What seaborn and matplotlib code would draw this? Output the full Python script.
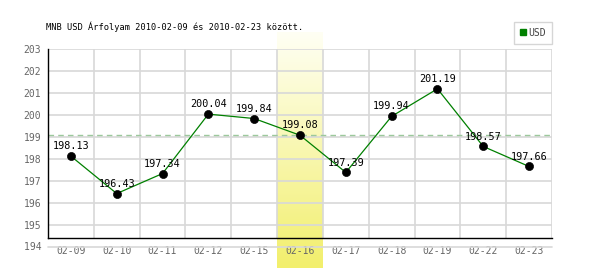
import matplotlib
matplotlib.use("Agg")
import matplotlib.pyplot as plt
import matplotlib.transforms as mtransforms
from matplotlib.lines import Line2D
from matplotlib.colors import LinearSegmentedColormap
import numpy as np
import pandas as pd
import seaborn as sns

dates = ["02-09", "02-10", "02-11", "02-12", "02-15", "02-16", "02-17", "02-18", "02-19", "02-22", "02-23"]
values = [198.13, 196.43, 197.34, 200.04, 199.84, 199.08, 197.39, 199.94, 201.19, 198.57, 197.66]
ref_level = 199.09
highlight = "02-16"
yticks = [195, 196, 197, 198, 199, 200, 201, 202, 203]
title = "MNB USD Árfolyam 2010-02-09 és 2010-02-23 között."
series_name = "USD"

sns.set_style("white")
plt.rcParams['font.family'] = ['DejaVu Sans Mono', 'DejaVu Sans']

df = pd.DataFrame({"date": dates, "value": values, "pos": np.arange(len(dates))})

fig = plt.figure(figsize=(6, 2.7), dpi=100)
ax = fig.add_axes([48/600, 32/270, 504/600, 189/270])

n = len(dates)

# highlight band with vertical gradient
hi = dates.index(highlight)
trans = mtransforms.blended_transform_factory(ax.transData, fig.transFigure)
grad = np.linspace(0, 1, 256).reshape(-1, 1)
cmap = LinearSegmentedColormap.from_list("band", ["#fffff4", "#f2ef6c"])
ax.imshow(grad, extent=[hi - 0.5, hi + 0.5, 2/270, 238/270], transform=trans,
          cmap=cmap, aspect='auto', origin='upper', clip_on=False, zorder=0)
ax.set_xlim(-0.5, n - 0.5)
ax.set_ylim(194.41, 203)

# grid
for yv in yticks:
    ax.axhline(yv, color="#d8d8d8", lw=1.2, zorder=1)
for xv in np.arange(-0.5, n, 1.0)[1:]:
    ax.axvline(xv, color="#d8d8d8", lw=1.2, zorder=1)
ax.plot([-0.5, n - 0.5], [194, 194], color="#d8d8d8", lw=1.2, clip_on=False, zorder=1)

ax.axhline(ref_level, color="#9cc89c", lw=1, ls=(0, (4, 3)), zorder=2)

sns.lineplot(data=df, x="pos", y="value", color="#008000", lw=0.9, ax=ax, zorder=3, legend=False)
sns.scatterplot(data=df, x="pos", y="value", color="black", s=34, edgecolor="black", ax=ax, zorder=4, legend=False)

for p, v in zip(df["pos"], df["value"]):
    ax.annotate(f"{v:.2f}", (p, v), xytext=(0, 3.5), textcoords="offset points",
                ha="center", va="bottom", fontsize=7.3, color="black", zorder=5)

ax.set_xticks(df["pos"])
ax.set_xticklabels(dates)
ax.set_yticks(yticks)
ax.tick_params(axis="both", length=0, labelsize=7, labelcolor="#666666")
ax.tick_params(axis="x", pad=5.5)
ax.tick_params(axis="y", pad=5)
ax.text(-0.5, 194, "194 ", transform=ax.transData, ha="right", va="center",
        fontsize=7, color="#666666", clip_on=False)
ax.set_xlabel("")
ax.set_ylabel("")

for s in ["top", "right"]:
    ax.spines[s].set_visible(False)
ax.spines["left"].set_color("black")
ax.spines["bottom"].set_color("black")
ax.spines["left"].set_linewidth(1)
ax.spines["bottom"].set_linewidth(1)

fig.text(46/600, 1 - 27/270, title, fontsize=6.25, color="black", va="center", ha="left")

handle = Line2D([], [], marker="s", color="#008000", lw=0, markersize=5)
leg = fig.legend([handle], [series_name], loc="upper right", bbox_to_anchor=(552/600, 1 - 22/270),
                 fontsize=7, frameon=True, fancybox=False, handlelength=0.6, handletextpad=0.3,
                 borderpad=0.6, borderaxespad=0)
leg.get_frame().set_edgecolor("#cccccc")
leg.get_frame().set_linewidth(1)
for t in leg.get_texts():
    t.set_color("#444444")

fig.savefig("out.png", dpi=100)
